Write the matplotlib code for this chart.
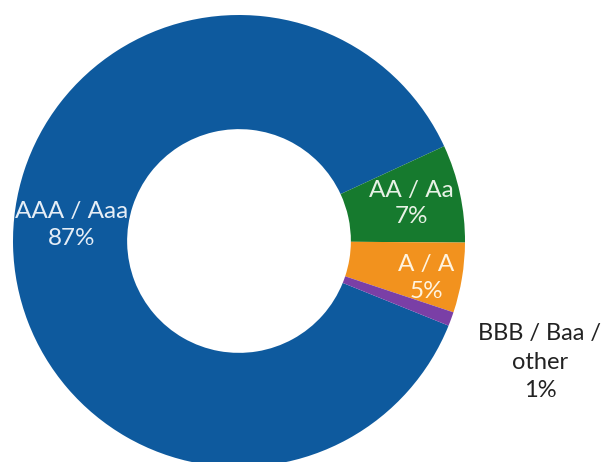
import numpy as np
import matplotlib.pyplot as plt

# rating split of the portfolio
categories = ["AAA / Aaa", "AA / Aa", "A / A", "BBB / Baa /\nother"]
shares = [87, 7, 5, 1]
colors = ["#0E5A9E", "#167A2E", "#F2921E", "#7A3FA6"]
text_colors = ["#E6EEF6", "#E8F2E6", "#FFF4E0", "#222222"]
label_radius = [0.74, 0.78, 0.84, 1.40]
label_shift = [(0, 20), (0, 0), (0, -6), (4, -12)]

plt.rcParams["font.family"] = ["Lato", "DejaVu Sans"]

fig = plt.figure(figsize=(6.08, 4.62), dpi=100)
ax = fig.add_axes([0, 0, 1, 1])

cx, cy, R = 239, 462 - 241, 226
wedges, _ = ax.pie(shares, colors=colors, startangle=338, counterclock=False,
                   radius=R, center=(cx, cy),
                   wedgeprops=dict(width=R * 0.505, edgecolor="none"))

for w, cat, val, tc, lr, (dx, dy) in zip(wedges, categories, shares,
                                         text_colors, label_radius, label_shift):
    mid = np.deg2rad((w.theta1 + w.theta2) / 2)
    x = cx + lr * R * np.cos(mid) + dx
    y = cy + lr * R * np.sin(mid) + dy
    ls = 1.45 if val == 1 else 1.32
    fs = 17 if val == 1 else 17.5
    ax.text(x, y, f"{cat}\n{val}%", ha="center", va="center", color=tc,
            fontsize=fs, linespacing=ls)

ax.set_xlim(0, 608)
ax.set_ylim(0, 462)
ax.set_aspect("equal")
ax.axis("off")

fig.savefig("out.png", dpi=100)
